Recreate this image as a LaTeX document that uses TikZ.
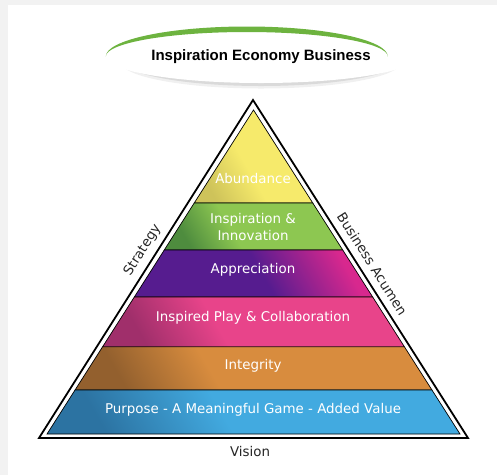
\documentclass[tikz,border=0pt]{standalone}
\usepackage{fontspec}
\setmainfont{DejaVu Sans}
\newfontfamily\headfont{Liberation Sans}
\usepackage{tikz}
\usetikzlibrary{shapes, shadows, positioning, calc}
\definecolor{ovalgreen}{HTML}{6DB33F}
\definecolor{abundlight}{HTML}{F6EA6B}
\definecolor{abunddark}{HTML}{CEC35A}
\definecolor{innolight}{HTML}{8DC751}
\definecolor{innodark}{HTML}{4E8C3E}
\definecolor{apprpurple}{HTML}{561C8F}
\definecolor{apprpink}{HTML}{D8288E}
\definecolor{playlight}{HTML}{E8448A}
\definecolor{playdark}{HTML}{A02F6B}
\definecolor{integlight}{HTML}{D88C3E}
\definecolor{integdark}{HTML}{93602E}
\definecolor{purplight}{HTML}{42AAE0}
\definecolor{purpdark}{HTML}{2C73A2}
\pgfdeclarehorizontalshading{abundshade}{100bp}{color(0bp)=(abunddark); color(25bp)=(abunddark); color(45bp)=(abundlight); color(100bp)=(abundlight)}
\pgfdeclarehorizontalshading{innoshade}{100bp}{color(0bp)=(innodark); color(25bp)=(innodark); color(42bp)=(innolight); color(100bp)=(innolight)}
\pgfdeclarehorizontalshading{apprshade}{100bp}{color(0bp)=(apprpurple); color(52bp)=(apprpurple); color(75bp)=(apprpink); color(100bp)=(apprpink)}
\pgfdeclarehorizontalshading{playshade}{100bp}{color(0bp)=(playdark); color(25bp)=(playdark); color(42bp)=(playlight); color(100bp)=(playlight)}
\pgfdeclarehorizontalshading{integshade}{100bp}{color(0bp)=(integdark); color(25bp)=(integdark); color(42bp)=(integlight); color(100bp)=(integlight)}
\pgfdeclarehorizontalshading{purpshade}{100bp}{color(0bp)=(purpdark); color(25bp)=(purpdark); color(45bp)=(purplight); color(100bp)=(purplight)}
\tikzstyle{layer} = [draw=black, line width=0.7pt, shading angle=30]
\tikzstyle{layertext} = [text=white, align=center, font=\fontsize{13.4}{16.5}\selectfont]
\tikzstyle{sidetext} = [text=black!85, font=\fontsize{13.4}{15}\selectfont]
\tikzstyle{titleoval} = [ellipse, fill=white, inner sep=0pt, minimum width=282pt, minimum height=53pt, font=\headfont\bfseries\fontsize{15}{18}\selectfont]

\begin{document}
\begin{tikzpicture}[x=1pt, y=-1pt]
	\useasboundingbox (0,0) rectangle (497,475);
	\fill[gray!10] (0,0) rectangle (497,475);
	\fill[white] (8,5) rectangle (497,475);
	\fill[black, opacity=0.06] (261,62) ellipse[x radius=140pt, y radius=26.5pt];
	\fill[black, opacity=0.09] (261,59.5) ellipse[x radius=140pt, y radius=26.5pt];
	\node[titleoval] (title) at (261,56.5) {Inspiration Economy Business};
	\fill[ovalgreen] (title.west) arc[start angle=180, end angle=0, x radius=141pt, y radius=30pt]
		arc[start angle=0, end angle=180, x radius=141pt, y radius=24.5pt] -- cycle;
	\coordinate (top) at (253,100);
	\coordinate (left) at (39,438);
	\coordinate (right) at (468,438);
	\draw[line width=1.8pt, fill=white] (top) -- (right) -- (left) -- cycle;
	\coordinate (apex) at (253.5,110);
	\coordinate (bl) at (47,434);
	\coordinate (br) at (460,434);
	\foreach \n/\t in {1/0.287, 2/0.432, 3/0.577, 4/0.731, 5/0.864}{
		\coordinate (l\n) at ($(apex)!\t!(bl)$);
		\coordinate (r\n) at ($(apex)!\t!(br)$);
	}
	\shade[layer, shading=abundshade] (apex) -- (r1) -- (l1) -- cycle;
	\shade[layer, shading=innoshade] (l1) -- (r1) -- (r2) -- (l2) -- cycle;
	\shade[layer, shading=apprshade] (l2) -- (r2) -- (r3) -- (l3) -- cycle;
	\shade[layer, shading=playshade] (l3) -- (r3) -- (r4) -- (l4) -- cycle;
	\shade[layer, shading=integshade] (l4) -- (r4) -- (r5) -- (l5) -- cycle;
	\shade[layer, shading=purpshade] (l5) -- (r5) -- (br) -- (bl) -- cycle;
	\node[layertext] (abundance) at (253,178) {Abundance};
	\node[layertext] (innovation) at (253,227) {Inspiration \&\\Innovation};
	\node[layertext] (appreciation) at (253,270) {Appreciation};
	\node[layertext] (play) at (253,318) {Inspired Play \& Collaboration};
	\node[layertext] (integrity) at (253,366) {Integrity};
	\node[layertext] (purpose) at (253,410) {Purpose - A Meaningful Game - Added Value};
	\node[sidetext] (vision) at (250,451) {Vision};
	\path (left) -- (top) node[sidetext, sloped, above=3pt, pos=0.535] (strategy) {Strategy};
	\path (top) -- (right) node[sidetext, sloped, above=4pt, pos=0.505] (acumen) {Business Acumen};
\end{tikzpicture}
\end{document}
